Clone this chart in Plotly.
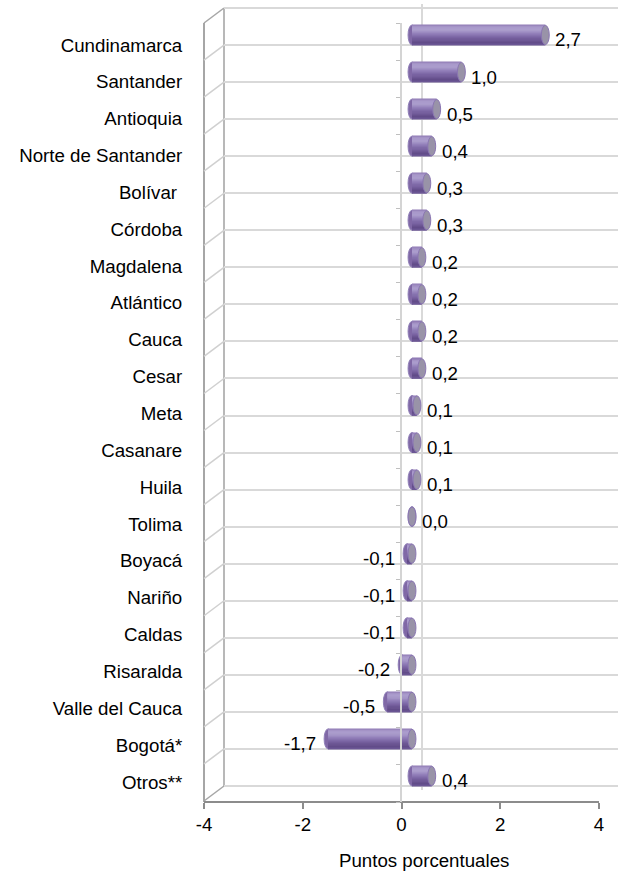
import plotly.graph_objects as go

# ---------------- data ----------------
categories = ["Cundinamarca", "Santander", "Antioquia", "Norte de Santander", "Bolívar ",
              "Córdoba", "Magdalena", "Atlántico", "Cauca", "Cesar", "Meta", "Casanare",
              "Huila", "Tolima", "Boyacá", "Nariño", "Caldas", "Risaralda",
              "Valle del Cauca", "Bogotá*", "Otros**"]
values = [2.7, 1.0, 0.5, 0.4, 0.3, 0.3, 0.2, 0.2, 0.2, 0.2, 0.1, 0.1, 0.1, 0.0,
          -0.1, -0.1, -0.1, -0.2, -0.5, -1.7, 0.4]
x_ticks = [-4, -2, 0, 2, 4]
x_title = "Puntos porcentuales"

# ---------------- geometry (pixels) ----------------
W, H = 618, 871
FONT = "Liberation Sans, Arial, sans-serif"
FS = 18.7
n = len(categories)
idx = list(range(n))

x_front0, x_front1 = 204, 599          # front value axis -4 .. 4
ppu = (x_front1 - x_front0) / 8.0      # px per unit
depth_dx, depth_dy = 20, -15           # front -> back offset
back_top, back_bot = 8, 786
front_top, front_bot = back_top - depth_dy, back_bot - depth_dy + 1
step = (back_bot - back_top) / n
bar_zero_px = 412
bar_c0 = 35                            # first bar centre
lab_c0, lab_c1 = 45, 782               # category label centres


def px(x):
    return x / W


def py(y):
    return 1 - y / H


def hex2rgb(h):
    return [int(h[i:i + 2], 16) for i in (1, 3, 5)]


def grad(stops, t):
    for (t0, c0), (t1, c1) in zip(stops[:-1], stops[1:]):
        if t0 <= t <= t1:
            f = (t - t0) / (t1 - t0) if t1 > t0 else 0
            a, b = hex2rgb(c0), hex2rgb(c1)
            return "rgb(%d,%d,%d)" % tuple(round(a[k] + (b[k] - a[k]) * f) for k in range(3))
    return stops[-1][1]


fig = go.Figure()

# ----- back wall grid (xy) -----
e = 0.1
fig.add_trace(go.Scatter(x=[None], y=[None], xaxis="x", yaxis="y", showlegend=False, hoverinfo="skip"))

# ----- bars (x2y2): cylinder shading as thin horizontal bands -----
thick = 0.54
stops = [(0.0, "#8A74B0"), (0.12, "#A898CA"), (0.26, "#AC9ECD"), (0.45, "#9280BA"),
         (0.65, "#7C66A4"), (0.85, "#654F8C"), (0.94, "#5F4986"), (1.0, "#7662A0")]
nb = 18
for j in range(nb):
    a, b = j / nb, (j + 1) / nb
    col = grad(stops, (a + b) / 2)
    fig.add_trace(go.Bar(x=values, y=idx, orientation="h", xaxis="x2", yaxis="y2",
                         offset=-thick / 2 + a * thick, width=(b - a) * thick + 0.012,
                         marker=dict(color=col, line=dict(width=0)),
                         showlegend=False, hoverinfo="skip"))

# ----- front axes (x3y3) -----
fig.add_trace(go.Scatter(x=[None], y=[None], xaxis="x3", yaxis="y3", showlegend=False, hoverinfo="skip"))
# ----- labels (x4y4) -----
fig.add_trace(go.Scatter(x=[None], y=[None], xaxis="x4", yaxis="y4", showlegend=False, hoverinfo="skip"))

shapes = []
cap_w = 0.08
for i, v in zip(idx, values):
    hi = max(v, 0.0)
    lo = min(v, 0.0)
    # rounded start of cylinder (behind bars)
    shapes.append(dict(type="circle", xref="x2", yref="y2", layer="below",
                       x0=lo - cap_w, x1=lo + cap_w, y0=i - thick / 2, y1=i + thick / 2,
                       fillcolor="#8068A6", line=dict(width=1, color="#9080B8")))
    # visible end cap
    shapes.append(dict(type="circle", xref="x2", yref="y2", layer="above",
                       x0=hi - cap_w, x1=hi + cap_w, y0=i - thick / 2 + 0.01, y1=i + thick / 2 - 0.01,
                       fillcolor="#9993A8", line=dict(width=1, color="#8A76B2")))

# left wall edges and diagonals
wall = "#A6A6A6"
shapes.append(dict(type="line", xref="paper", yref="paper", layer="below",
                   x0=px(x_front0), x1=px(x_front0), y0=py(front_top), y1=py(front_bot),
                   line=dict(color=wall, width=2)))
shapes.append(dict(type="line", xref="paper", yref="paper", layer="below",
                   x0=px(x_front0 + depth_dx), x1=px(x_front0 + depth_dx), y0=py(back_top), y1=py(back_bot),
                   line=dict(color="#B8B8B8", width=2)))
for k in range(n + 1):
    yb = back_top + k * step
    col = wall if k in (0, n) else "#D0D0D0"
    shapes.append(dict(type="line", xref="paper", yref="paper", layer="below",
                       x0=px(x_front0), y0=py(yb - depth_dy), x1=px(x_front0 + depth_dx), y1=py(yb),
                       line=dict(color=col, width=1.5)))

annotations = []
for i, v in zip(idx, values):
    txt = f"{v:.1f}".replace(".", ",")
    if v >= 0:
        annotations.append(dict(x=v, y=i, xref="x2", yref="y2", text=txt, showarrow=False,
                                xanchor="left", xshift=8, yshift=-5,
                                font=dict(family=FONT, size=FS, color="#000000")))
    else:
        annotations.append(dict(x=v, y=i, xref="x2", yref="y2", text=txt, showarrow=False,
                                xanchor="right", xshift=-10, yshift=-5,
                                font=dict(family=FONT, size=FS, color="#000000")))
annotations.append(dict(x=px(424), y=py(860), xref="paper", yref="paper", text=x_title,
                        showarrow=False, xanchor="center", yanchor="middle",
                        font=dict(family=FONT, size=FS, color="#000000")))

bz = -(bar_zero_px - x_front0) / ppu
back_x0 = x_front0 + depth_dx
lab_half = (lab_c1 - lab_c0) / (n - 1) / 2

fig.update_layout(
    template="none",
    width=W, height=H,
    margin=dict(l=0, r=0, t=0, b=0, pad=0),
    paper_bgcolor="white", plot_bgcolor="rgba(0,0,0,0)",
    barmode="overlay", showlegend=False,
    font=dict(family=FONT, size=FS, color="#000000"),
    shapes=shapes, annotations=annotations,
    xaxis=dict(domain=[px(back_x0), 1], range=[-4, -4 + (W - back_x0) / ppu], automargin=False,
               tickvals=[0], showticklabels=False, ticks="", showgrid=True,
               gridcolor="#D9D9D9", gridwidth=2, zeroline=False, showline=False, anchor="y"),
    yaxis=dict(domain=[py(back_bot + e * step), py(back_top - e * step)], range=[n + e, -e],
               automargin=False,
               tickvals=list(range(n + 1)), showticklabels=False, ticks="", showgrid=True,
               gridcolor="#D9D9D9", gridwidth=2, zeroline=False, showline=False, anchor="x"),
    xaxis2=dict(domain=[px(x_front0), px(x_front1)], range=[bz, bz + 8], visible=False,
                anchor="y2", automargin=False),
    yaxis2=dict(domain=[py(bar_c0 + (n - 0.5) * step), py(bar_c0 - 0.5 * step)],
                range=[n - 0.5, -0.5], visible=False, anchor="x2", automargin=False),
    xaxis3=dict(domain=[px(x_front0), px(x_front1)], range=[-4, 4], tickvals=x_ticks,
                ticktext=[str(t) for t in x_ticks], anchor="free", position=py(front_bot),
                automargin=False,
                showline=True, linecolor="#8C8C8C", linewidth=2, ticks="outside", ticklen=6,
                tickwidth=1.5, tickcolor="#8C8C8C", showgrid=False, zeroline=False,
                tickfont=dict(family=FONT, size=FS, color="#000000")),
    yaxis3=dict(domain=[py(front_bot), py(front_top)], range=[n, 0], tickvals=list(range(n + 1)),
                anchor="free", position=px(x_front0 + 4 * ppu - 1), showticklabels=False,
                automargin=False,
                showline=True, linecolor="#D4D4D4", linewidth=2, ticks="outside", ticklen=4,
                tickcolor="#BFBFBF", tickwidth=1, showgrid=False, zeroline=False),
    xaxis4=dict(domain=[px(x_front0), px(x_front1)], range=[-4, 4], visible=False, anchor="y4",
                automargin=False),
    yaxis4=dict(domain=[py(lab_c1 + lab_half), py(lab_c0 - lab_half)], range=[n - 0.5, -0.5],
                tickvals=idx, ticktext=categories, anchor="x4", ticks="outside", ticklen=17,
                automargin=False,
                tickcolor="rgba(0,0,0,0)", showgrid=False, zeroline=False, showline=False,
                tickfont=dict(family=FONT, size=FS, color="#000000")),
)

fig.write_html("out.html", config={"displayModeBar": False},
               post_script="document.body.style.margin='0px';")
